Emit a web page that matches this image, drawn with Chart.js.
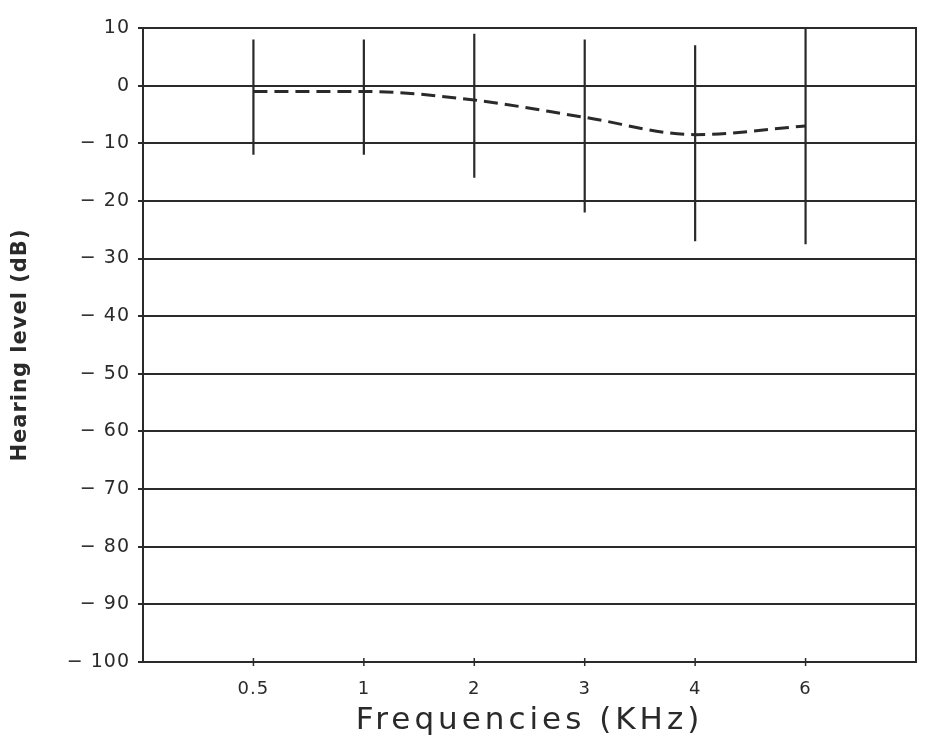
<!DOCTYPE html>
<html>
<head>
<meta charset="utf-8">
<script src="https://cdn.jsdelivr.net/npm/chart.js@4.4.1/dist/chart.umd.min.js"></script>
<style>
  html, body { margin: 0; padding: 0; background: #fff; }
  #audiogram { display: block; }
</style>
</head>
<body>
<canvas id="audiogram" width="925" height="746"></canvas>
<script>
// Audiogram: mean hearing level per frequency, with spread bars
const freqLabels = ['0.5', '1', '2', '3', '4', '6'];
const freqSlots = [1, 2, 3, 4, 5, 6];
const meanLevel = [-1, -1, -2.5, -5.5, -8.5, -7];
const barUpper = [8, 8, 9, 8, 7, 10];
const barLower = [-12, -12, -16, -22, -27, -27.5];

const ink = '#2a2a2a';

// one short line dataset per spread bar
const barSets = freqSlots.map((slot, i) => ({
  type: 'line',
  data: [{ x: slot, y: barUpper[i] }, { x: slot, y: barLower[i] }],
  borderColor: ink,
  borderWidth: 2.2,
  pointRadius: 0,
  tension: 0,
  clip: false
}));

const meanSet = {
  type: 'line',
  data: freqSlots.map((slot, i) => ({ x: slot, y: meanLevel[i] })),
  borderColor: ink,
  borderWidth: 3,
  borderDash: [14, 7],
  pointRadius: 0,
  cubicInterpolationMode: 'monotone',
  fill: false
};

// plotter-like spacing of the lettering, frame and bottom tick crosses
const framePlugin = {
  id: 'framePlugin',
  afterLayout(chart) {
    const x = chart.scales.x;
    if (x._spacedTitle) return;
    const orig = x.drawTitle;
    x.drawTitle = function (...args) {
      this.ctx.letterSpacing = '4px';
      orig.apply(this, args);
      this.ctx.letterSpacing = '1px';
    };
    x._spacedTitle = true;
  },
  beforeDraw(chart) {
    chart.ctx.letterSpacing = '1px';
  },
  afterDraw(chart) {
    const { ctx, chartArea: a, scales: { x } } = chart;
    ctx.save();
    ctx.strokeStyle = ink;
    ctx.lineWidth = 2;
    ctx.strokeRect(a.left, a.top, a.right - a.left, a.bottom - a.top);
    ctx.lineWidth = 1.5;
    freqSlots.forEach(slot => {
      const px = x.getPixelForValue(slot);
      ctx.beginPath();
      ctx.moveTo(px, a.bottom - 4);
      ctx.lineTo(px, a.bottom + 4);
      ctx.stroke();
    });
    ctx.restore();
    ctx.letterSpacing = '0px';
  }
};

new Chart(document.getElementById('audiogram'), {
  type: 'line',
  data: { datasets: [meanSet, ...barSets] },
  options: {
    responsive: false,
    animation: false,
    layout: { padding: { top: 28, right: 9, bottom: 6, left: 0 } },
    plugins: { legend: { display: false }, tooltip: { enabled: false } },
    scales: {
      x: {
        type: 'linear',
        min: 0,
        max: 7,
        afterBuildTicks(scale) {
          scale.ticks = freqSlots.map(v => ({ value: v }));
        },
        afterFit(scale) { scale.height = 78; },
        ticks: {
          callback: (v) => freqLabels[freqSlots.indexOf(v)] ?? '',
          color: ink,
          padding: 17,
          font: { family: 'DejaVu Sans', size: 18 }
        },
        grid: { drawOnChartArea: false, drawTicks: false },
        border: { display: false },
        title: {
          display: true,
          text: 'Frequencies (KHz)',
          color: ink,
          padding: { top: 0, bottom: 0 },
          font: { family: 'DejaVu Sans', size: 31 }
        }
      },
      y: {
        type: 'linear',
        min: -100,
        max: 10,
        afterFit(scale) { scale.width = 143; },
        ticks: {
          stepSize: 10,
          color: ink,
          padding: 8,
          callback: (v) => v < 0 ? '\u2212 ' + Math.abs(v) : String(v),
          font: { family: 'DejaVu Sans', size: 19 }
        },
        grid: { color: ink, lineWidth: 2, tickLength: 5 },
        border: { display: false },
        title: {
          display: true,
          text: 'Hearing level (dB)',
          color: ink,
          padding: { top: 8, bottom: 0 },
          font: { family: 'DejaVu Sans', size: 21, weight: 'bold' }
        }
      }
    }
  },
  plugins: [framePlugin]
});
</script>
</body>
</html>
